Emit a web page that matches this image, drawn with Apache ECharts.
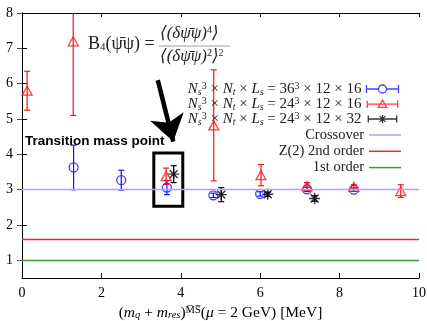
<!DOCTYPE html>
<html>
<head>
<meta charset="utf-8">
<script src="https://cdn.jsdelivr.net/npm/echarts@6/dist/echarts.min.js"></script>
<style>
  html, body { margin: 0; padding: 0; background: #fff; }
  #chart { width: 427px; height: 321px; }
</style>
</head>
<body>
<div id="chart"></div>
<script>
// 36^3 x 12 x 16 (blue circles)
const blueX = [1.3, 2.5, 3.65, 4.82, 6.0, 7.18, 8.36]
const blueY = [3.63, 3.27, 3.06, 2.84, 2.88, 3.01, 3.0]
const blueErr = [0.63, 0.28, 0.2, 0.06, 0.06, 0.06, 0.05]

// 24^3 x 12 x 16 (red triangles)
const redX = [0.13, 1.29, 3.63, 4.83, 6.02, 7.18, 8.36, 9.54]
const redY = [5.8, 7.2, 3.38, 4.82, 3.41, 3.1, 3.08, 2.96]
const redErr = [0.55, 2.1, 0.23, 1.57, 0.3, 0.1, 0.06, 0.18]

// 24^3 x 12 x 32 (black stars)
const blackX = [3.82, 5.02, 6.19, 7.37]
const blackY = [3.44, 2.86, 2.87, 2.75]
const blackErr = [0.24, 0.2, 0.06, 0.08]

// reference lines
const crossoverY = 3
const z2Y = 1.604
const firstOrderY = 1

const xTicks = [0, 2, 4, 6, 8, 10]
const yTicks = [1, 2, 3, 4, 5, 6, 7, 8]

// annotation (box + arrow) in data units
const boxCorners = [[3.32, 4.04], [4.05, 2.53]]
const arrowEnds = [[3.42, 6.1], [3.81, 4.36]]

const Y_MAX = 8
const SERIF = '"Liberation Serif", "DejaVu Serif", serif'

const nameBlue = 'n36'
const nameRed = 'n24a'
const nameBlack = 'n24b'

const rows = (xs, ys, es) => xs.map((x, i) => [x, ys[i], es[i]])

function errorBars(name, color, xs, ys, es) {
  return {
    type: 'custom',
    name: name + '_err',
    data: rows(xs, ys, es),
    encode: { x: 0, y: 1 },
    renderItem: (params, api) => {
      const x = api.value(0), y = api.value(1), e = api.value(2)
      const top = Math.min(y + e, Y_MAX)
      const lo = api.coord([x, y - e])
      const hi = api.coord([x, top])
      const w = 3
      const style = { stroke: color, lineWidth: 1.2 }
      const kids = [
        { type: 'line', shape: { x1: lo[0], y1: lo[1], x2: hi[0], y2: hi[1] }, style },
        { type: 'line', shape: { x1: lo[0] - w, y1: lo[1], x2: lo[0] + w, y2: lo[1] }, style },
      ]
      if (y + e <= Y_MAX) {
        kids.push({ type: 'line', shape: { x1: hi[0] - w, y1: hi[1], x2: hi[0] + w, y2: hi[1] }, style })
      }
      return { type: 'group', children: kids }
    },
    z: 3,
  }
}

const starPath = 'path://M0,-5L0,5M-5,0L5,0M-3.6,-3.6L3.6,3.6M-3.6,3.6L3.6,-3.6'

const iconBlue = 'path://M0,1L0,9M32,1L32,9M0,5L12,5M20,5L32,5M20,5A4,4,0,1,1,12,5A4,4,0,1,1,20,5'
const iconRed = 'path://M0,1L0,9M32,1L32,9M0,5L32,5M16,0.6L20.5,8.4L11.5,8.4Z'
const iconBlack = 'path://M0,1L0,9M32,1L32,9M0,5L32,5M16,0.5L16,9.5M11.5,5L20.5,5M12.8,1.8L19.2,8.2M12.8,8.2L19.2,1.8'

const legendText = {
  n36: '{i|N}{sb|s}{sp|3} × {i|N}{sb|t} × {i|L}{sb|s} = 36{sp|3} × 12 × 16',
  n24a: '{i|N}{sb|s}{sp|3} × {i|N}{sb|t} × {i|L}{sb|s} = 24{sp|3} × 12 × 16',
  n24b: '{i|N}{sb|s}{sp|3} × {i|N}{sb|t} × {i|L}{sb|s} = 24{sp|3} × 12 × 32',
}

const legendRich = {
  i: { fontStyle: 'italic', fontFamily: SERIF, fontSize: 15, color: '#222' },
  sb: { fontSize: 10, fontStyle: 'italic', fontFamily: SERIF, verticalAlign: 'bottom', color: '#222' },
  sp: { fontSize: 10, fontFamily: SERIF, verticalAlign: 'top', color: '#222' },
}

const chart = echarts.init(document.getElementById('chart'))

const axisCommon = {
  axisLine: { lineStyle: { color: '#000', width: 1 } },
  splitLine: { show: false },
}

chart.setOption({
  animation: false,
  backgroundColor: '#fff',
  grid: { left: 22, right: 8, top: 13, bottom: 43, outerBoundsMode: 'none', containLabel: false },
  xAxis: [{
    ...axisCommon,
    type: 'value', min: 0, max: 10, interval: 2,
    axisTick: { inside: true, length: 5, lineStyle: { color: '#000' } },
    axisLabel: { color: '#000', fontSize: 14, fontFamily: SERIF, margin: 8, customValues: xTicks },
    name: '{p|(}{i|m}{sb|q}{p| + }{i|m}{sb|res}{p|)}{sp|M̅S̅}{p|(}{i|μ}{p| = 2 GeV) [MeV]}',
    nameLocation: 'middle',
    nameGap: 26,
    nameTextStyle: {
      rich: {
        p: { fontSize: 15.5, fontFamily: SERIF, color: '#000' },
        i: { fontSize: 15.5, fontFamily: SERIF, fontStyle: 'italic', color: '#000' },
        sb: { fontSize: 10.5, fontFamily: SERIF, fontStyle: 'italic', verticalAlign: 'bottom', color: '#000' },
        sp: { fontSize: 10.5, fontFamily: SERIF, verticalAlign: 'top', color: '#000' },
      },
    },
  }, {
    ...axisCommon,
    type: 'value', min: 0, max: 10, interval: 2, position: 'top',
    axisTick: { inside: true, length: 4, lineStyle: { color: '#000' } },
    axisLabel: { show: false },
  }],
  yAxis: [{
    ...axisCommon,
    type: 'value', min: 0.5, max: 8,
    axisTick: { inside: true, length: 5, customValues: yTicks, lineStyle: { color: '#000' } },
    axisLabel: { color: '#000', fontSize: 14, fontFamily: SERIF, margin: 9, customValues: yTicks },
  }, {
    ...axisCommon,
    type: 'value', min: 0.5, max: 8, position: 'right',
    axisTick: { inside: true, length: 5, customValues: yTicks, lineStyle: { color: '#555' } },
    axisLabel: { show: false },
  }],
  legend: [{
    orient: 'vertical', right: 26, top: 81, align: 'right', padding: 0,
    itemWidth: 32, itemHeight: 8, itemGap: -1,
    data: [
      { name: nameBlue, icon: iconBlue, itemStyle: { color: 'none', borderColor: '#1010ff', borderWidth: 1.3 } },
      { name: nameRed, icon: iconRed, itemStyle: { color: 'none', borderColor: '#ff1010', borderWidth: 1.3 } },
      { name: nameBlack, icon: iconBlack, itemStyle: { color: 'none', borderColor: '#000', borderWidth: 1.3 } },
    ],
    formatter: (n) => legendText[n],
    textStyle: { fontSize: 15, fontFamily: SERIF, color: '#222', lineHeight: 16, rich: legendRich },
    selectedMode: false,
  }, {
    orient: 'vertical', right: 26, top: 127.5, align: 'right', padding: 0,
    itemWidth: 32, itemHeight: 1.5, itemGap: 1.3,
    data: [
      { name: 'Crossover', icon: 'rect', itemStyle: { color: '#b89cff' } },
      { name: 'Z(2) 2nd order', icon: 'rect', itemStyle: { color: '#f02828' } },
      { name: '1st order', icon: 'rect', itemStyle: { color: '#3a9a3a' } },
    ],
    textStyle: { fontSize: 14.5, fontFamily: SERIF, color: '#222', lineHeight: 15 },
    selectedMode: false,
  }],
  graphic: [
    {
      type: 'text', left: 88, top: 35,
      style: {
        text: 'B{sb|4}(ψ̄ψ) =',
        font: '18px ' + SERIF, fill: '#222',
        rich: { sb: { fontSize: 11, fontFamily: SERIF, verticalAlign: 'bottom', fill: '#222' } },
      },
    },
    {
      type: 'text', left: 160, top: 25,
      style: {
        text: '⟨(δψ̄ψ){sp|4}⟩',
        font: 'italic 17px ' + SERIF, fill: '#222',
        rich: { sp: { fontSize: 10, fontFamily: SERIF, verticalAlign: 'top', fill: '#222' } },
      },
    },
    { type: 'line', shape: { x1: 159, y1: 46, x2: 230, y2: 46 }, style: { stroke: '#777', lineWidth: 0.7 } },
    {
      type: 'text', left: 160, top: 48,
      style: {
        text: '⟨(δψ̄ψ){sp|2}⟩{sp|2}',
        font: 'italic 17px ' + SERIF, fill: '#222',
        rich: { sp: { fontSize: 10, fontFamily: SERIF, verticalAlign: 'top', fill: '#222' } },
      },
    },
    {
      type: 'text', left: 25, top: 134,
      style: { text: 'Transition mass point', font: 'bold 13.5px "Liberation Sans", Arial, sans-serif', fill: '#000' },
      z: 10,
    },
  ],
  series: [
    {
      type: 'line', name: 'Crossover', data: [], symbol: 'none',
      color: '#b89cff',
      markLine: { silent: true, symbol: 'none', label: { show: false }, lineStyle: { color: '#b89cff', width: 1.3, type: 'solid' }, data: [{ yAxis: crossoverY }] },
    },
    {
      type: 'line', name: 'Z(2) 2nd order', data: [], symbol: 'none',
      color: '#f02828',
      markLine: { silent: true, symbol: 'none', label: { show: false }, lineStyle: { color: '#f02828', width: 1.3, type: 'solid' }, data: [{ yAxis: z2Y }] },
    },
    {
      type: 'line', name: '1st order', data: [], symbol: 'none',
      color: '#3a9a3a',
      markLine: { silent: true, symbol: 'none', label: { show: false }, lineStyle: { color: '#3a9a3a', width: 1.3, type: 'solid' }, data: [{ yAxis: firstOrderY }] },
    },
    errorBars(nameBlue, '#1010ff', blueX, blueY, blueErr),
    {
      type: 'scatter', name: nameBlue, data: rows(blueX, blueY, blueErr),
      symbol: 'circle', symbolSize: 9,
      itemStyle: { color: 'rgba(0,0,0,0)', borderColor: '#1010ff', borderWidth: 1.3 },
      z: 4,
    },
    errorBars(nameRed, '#ff1010', redX, redY, redErr),
    {
      type: 'scatter', name: nameRed, data: rows(redX, redY, redErr),
      symbol: 'triangle', symbolSize: [10, 9],
      itemStyle: { color: 'rgba(0,0,0,0)', borderColor: '#ff1010', borderWidth: 1.3 },
      z: 4,
    },
    errorBars(nameBlack, '#000', blackX, blackY, blackErr),
    {
      type: 'scatter', name: nameBlack, data: rows(blackX, blackY, blackErr),
      symbol: starPath, symbolSize: 11,
      itemStyle: { color: 'rgba(0,0,0,0)', borderColor: '#000', borderWidth: 1.4 },
      z: 4,
    },
    {
      // annotation: box around the transition point and the arrow
      type: 'scatter', name: 'annot', data: [], silent: true,
      markArea: {
        silent: true,
        itemStyle: { color: 'rgba(0,0,0,0)', borderColor: '#000', borderWidth: 3 },
        data: [[{ coord: boxCorners[0] }, { coord: boxCorners[1] }]],
      },
      markLine: {
        silent: true,
        symbol: ['none', 'arrow'], symbolSize: 26,
        label: { show: false },
        lineStyle: { color: '#000', width: 4.5, type: 'solid' },
        data: [[{ coord: arrowEnds[0] }, { coord: arrowEnds[1] }]],
      },
      z: 6,
    },
  ],
})
</script>
</body>
</html>
